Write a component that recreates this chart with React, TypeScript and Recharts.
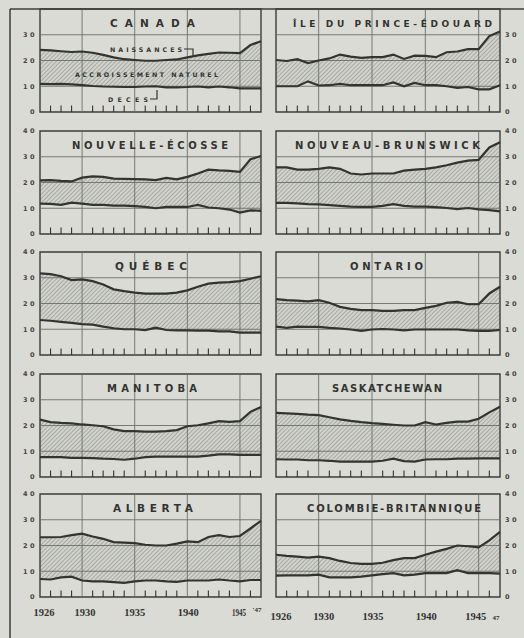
import React from 'react';
import { ComposedChart, Area, Line, XAxis, YAxis, ReferenceLine, ReferenceArea } from 'recharts';

// taux pour 1 000 habitants, 1926-1947
const years = [1926, 1927, 1928, 1929, 1930, 1931, 1932, 1933, 1934, 1935, 1936, 1937, 1938, 1939, 1940, 1941, 1942, 1943, 1944, 1945, 1946, 1947];

const canadaBirths = [24.1, 23.9, 23.6, 23.3, 23.5, 23.0, 22.2, 21.2, 20.5, 20.2, 19.9, 19.9, 20.2, 20.4, 21.2, 22.0, 22.6, 23.1, 23.0, 22.9, 26.0, 27.5];
const canadaDeaths = [10.9, 10.8, 10.9, 10.7, 10.4, 10.1, 9.9, 9.8, 9.7, 9.7, 9.9, 10.0, 9.6, 9.6, 9.7, 9.9, 9.6, 9.9, 9.6, 9.2, 9.2, 9.2];

const peiBirths = [20.2, 19.8, 20.5, 19.0, 20.0, 20.8, 22.3, 21.5, 21.0, 21.3, 21.3, 22.3, 20.6, 21.9, 21.8, 21.3, 23.2, 23.5, 24.4, 24.4, 29.5, 31.3];
const peiDeaths = [10.0, 10.0, 10.0, 11.9, 10.3, 10.4, 10.9, 10.4, 10.4, 10.4, 10.4, 11.5, 10.0, 11.3, 10.4, 10.4, 10.0, 9.4, 9.7, 8.8, 8.8, 10.4];

const nsBirths = [20.8, 20.9, 20.6, 20.4, 21.9, 22.4, 22.2, 21.5, 21.4, 21.3, 21.2, 20.9, 21.8, 21.2, 22.2, 23.5, 25.0, 24.7, 24.5, 24.1, 29.0, 30.3];
const nsDeaths = [11.8, 11.7, 11.3, 12.2, 11.8, 11.3, 11.3, 11.0, 11.0, 10.8, 10.5, 10.0, 10.5, 10.5, 10.5, 11.3, 10.3, 10.0, 9.5, 8.3, 9.2, 9.0];

const nbBirths = [25.9, 25.9, 25.0, 25.0, 25.3, 25.9, 25.3, 23.5, 23.1, 23.5, 23.5, 23.5, 24.6, 25.0, 25.3, 25.9, 26.7, 27.7, 28.5, 28.8, 33.6, 35.6];
const nbDeaths = [12.1, 12.1, 11.9, 11.6, 11.5, 11.2, 10.9, 10.6, 10.5, 10.5, 10.9, 11.6, 10.9, 10.6, 10.6, 10.4, 10.1, 9.7, 10.1, 9.6, 9.3, 8.8];

const quebecBirths = [31.7, 31.4, 30.6, 29.1, 29.4, 28.7, 27.4, 25.5, 24.8, 24.2, 23.8, 23.8, 23.8, 24.2, 25.1, 26.5, 27.7, 28.1, 28.3, 28.7, 29.6, 30.6];
const quebecDeaths = [13.6, 13.3, 12.9, 12.5, 12.0, 11.8, 11.0, 10.4, 10.0, 10.0, 9.7, 10.6, 9.7, 9.6, 9.6, 9.5, 9.5, 9.2, 9.2, 8.7, 8.7, 8.7];

const ontarioBirths = [21.7, 21.3, 21.1, 20.8, 21.3, 20.3, 18.7, 17.9, 17.4, 17.4, 17.1, 17.1, 17.4, 17.4, 18.3, 19.1, 20.3, 20.6, 19.7, 19.7, 23.9, 26.5];
const ontarioDeaths = [11.0, 10.5, 11.0, 10.9, 10.9, 10.5, 10.3, 9.9, 9.4, 9.9, 10.1, 9.9, 9.6, 9.9, 9.9, 9.9, 9.9, 9.9, 9.6, 9.4, 9.4, 9.7];

const manitobaBirths = [22.3, 21.3, 21.0, 20.8, 20.4, 20.1, 19.7, 18.5, 17.8, 17.8, 17.6, 17.6, 17.8, 18.2, 19.7, 20.1, 20.8, 21.7, 21.4, 21.7, 25.3, 27.2];
const manitobaDeaths = [7.7, 7.7, 7.7, 7.4, 7.4, 7.3, 7.1, 7.0, 6.7, 7.1, 7.7, 7.9, 7.9, 7.9, 7.9, 7.9, 8.3, 8.8, 8.8, 8.6, 8.6, 8.6];

const saskBirths = [24.9, 24.7, 24.5, 24.2, 24.0, 23.2, 22.4, 21.8, 21.3, 20.9, 20.6, 20.3, 20.0, 20.0, 21.3, 20.4, 21.0, 21.5, 21.5, 22.6, 25.1, 27.3];
const saskDeaths = [6.9, 6.8, 6.8, 6.5, 6.5, 6.3, 6.0, 6.0, 6.0, 6.0, 6.3, 7.1, 6.2, 6.0, 6.8, 6.9, 6.9, 7.1, 7.1, 7.2, 7.2, 7.2];

const albertaBirths = [23.2, 23.2, 23.3, 24.0, 24.6, 23.5, 22.6, 21.3, 21.1, 20.9, 20.3, 20.0, 20.0, 20.7, 21.6, 21.3, 23.3, 24.0, 23.3, 23.7, 26.6, 29.6];
const albertaDeaths = [7.0, 6.8, 7.6, 7.9, 6.4, 6.1, 6.1, 5.8, 5.5, 6.1, 6.4, 6.4, 6.1, 5.9, 6.4, 6.4, 6.4, 6.8, 6.4, 6.1, 6.6, 6.6];

const bcBirths = [16.4, 16.0, 15.7, 15.3, 15.7, 15.1, 14.0, 13.2, 12.9, 12.9, 13.3, 14.3, 15.1, 15.1, 16.4, 17.6, 18.7, 20.0, 19.7, 19.3, 22.0, 25.3];
const bcDeaths = [8.3, 8.4, 8.4, 8.4, 8.7, 7.6, 7.6, 7.6, 7.9, 8.4, 8.9, 9.3, 8.4, 8.7, 9.3, 9.3, 9.3, 10.4, 9.3, 9.3, 9.3, 9.1];

const gridYears = [1930, 1935, 1940, 1945];
const gridRates = [10, 20, 30];
const rateTicksFirstRow = [0, 10, 20, 30];
const rateTicks = [0, 10, 20, 30, 40];

const yearLabelsLeft: Record<number, string> = { 1926: '1926', 1930: '1930', 1935: '1935', 1940: '1940', 1945: '1945', 1947: "'47" };
const yearLabelsRight: Record<number, string> = { 1926: '1926', 1930: '1930', 1935: '1935', 1940: '1940', 1945: '1945', 1947: '47' };

// layout
const BG = '#dadbd5';
const INK = '#333431';
const PLOT_H = 103;
const ROW_TOPS = [9, 131, 252, 374, 494];
const COLS = [
  { plotLeft: 40, plotRight: 261, axisW: 32 },
  { plotLeft: 276, plotRight: 500, axisW: 24 },
];
// small nudges for the hand-lettered year labels
const labelDx: Record<number, number[]> = {
  1926: [4, 5], 1930: [3, 5], 1935: [0, 1], 1940: [1, 1], 1945: [-1, -3], 1947: [-4, -4],
};

const panels = [
  { title: 'CANADA', births: canadaBirths, deaths: canadaDeaths, tx: [110, 195], fs: 10.5 },
  { title: 'ÎLE DU PRINCE-ÉDOUARD', births: peiBirths, deaths: peiDeaths, tx: [293, 492], fs: 9 },
  { title: 'NOUVELLE-ÉCOSSE', births: nsBirths, deaths: nsDeaths, tx: [72, 228], fs: 10 },
  { title: 'NOUVEAU-BRUNSWICK', births: nbBirths, deaths: nbDeaths, tx: [295, 480], fs: 10 },
  { title: 'QUÉBEC', births: quebecBirths, deaths: quebecDeaths, tx: [115, 187], fs: 10.5 },
  { title: 'ONTARIO', births: ontarioBirths, deaths: ontarioDeaths, tx: [350, 423], fs: 10 },
  { title: 'MANITOBA', births: manitobaBirths, deaths: manitobaDeaths, tx: [107, 197], fs: 10 },
  { title: 'SASKATCHEWAN', births: saskBirths, deaths: saskDeaths, tx: [332, 442], fs: 10 },
  { title: 'ALBERTA', births: albertaBirths, deaths: albertaDeaths, tx: [113, 193], fs: 10.5 },
  { title: 'COLOMBIE-BRITANNIQUE', births: bcBirths, deaths: bcDeaths, tx: [307, 481], fs: 10 },
];

const tickFont = { fontSize: 6.5, fontFamily: 'DejaVu Sans', fontWeight: 700, fill: '#454641', letterSpacing: 2.5 };

function makeYearTick(bottomRow: boolean, col: number) {
  return (props: any) => {
    const { x, y, payload } = props;
    const v = payload.value as number;
    const major = v === 1926 || v === 1947 || gridYears.includes(v);
    const labels = col === 0 ? yearLabelsLeft : yearLabelsRight;
    const label = bottomRow ? labels[v] : undefined;
    const small = v === 1947;
    return (
      <g>
        {!major && <line x1={x} x2={x} y1={y} y2={y - 6.5} stroke={INK} strokeWidth={1.1} />}
        {label && (
          <text
            x={x + labelDx[v][col]}
            y={y + (col === 0 ? 19 : 23) - (small && col === 0 ? 4 : 0)}
            textAnchor="middle"
            fontFamily="Liberation Serif"
            fontWeight={700}
            fontSize={small ? 7 : 10.5}
            fill={INK}
            textLength={v === 1945 && col === 0 ? 14 : undefined}
            lengthAdjust="spacingAndGlyphs"
          >
            {label}
          </text>
        )}
      </g>
    );
  };
}

function Panel({ idx }: { idx: number }) {
  const p = panels[idx];
  const row = Math.floor(idx / 2);
  const col = idx % 2;
  const c = COLS[col];
  const bottomRow = row === 4;
  const xAxisH = bottomRow ? 30 : 6;
  const mTop = 6;
  const mSide = col === 0 ? 2 : 10;
  const plotW = c.plotRight - c.plotLeft;
  const width = plotW + c.axisW + mSide;
  const height = mTop + PLOT_H + xAxisH;
  const left = col === 0 ? c.plotLeft - c.axisW : c.plotLeft - mSide;
  const top = ROW_TOPS[row] - mTop;
  const data = years.map((year, i) => ({
    year,
    births: p.births[i],
    deaths: p.deaths[i],
    range: [p.deaths[i], p.births[i]],
  }));
  const margin = col === 0 ? { top: mTop, right: mSide, left: 0, bottom: 0 } : { top: mTop, right: 0, left: mSide, bottom: 0 };

  return (
    <div style={{ position: 'absolute', left, top, width, height }}>
      <ComposedChart width={width} height={height} data={data} margin={margin}>
        <XAxis
          dataKey="year"
          type="number"
          domain={[1926, 1947]}
          ticks={years}
          interval={0}
          axisLine={false}
          tickLine={false}
          tickSize={0}
          tickMargin={0}
          height={xAxisH}
          tick={makeYearTick(bottomRow, col)}
        />
        <YAxis
          type="number"
          domain={[0, 40]}
          ticks={row === 0 ? rateTicksFirstRow : rateTicks}
          interval={0}
          orientation={col === 0 ? 'left' : 'right'}
          width={c.axisW}
          axisLine={false}
          tickLine={false}
          tickSize={0}
          tickMargin={col === 0 ? 3 : 5}
          tick={tickFont}
        />
        <Area
          dataKey="range"
          type="linear"
          stroke="none"
          fill="url(#hatch)"
          fillOpacity={1}
          isAnimationActive={false}
        />
        {gridRates.map((r) => (
          <ReferenceLine key={'h' + r} y={r} stroke="#6c6e69" strokeWidth={0.9} />
        ))}
        {gridYears.map((y) => (
          <ReferenceLine key={'v' + y} x={y} stroke="#6c6e69" strokeWidth={0.9} />
        ))}
        <Line dataKey="births" type="linear" stroke={INK} strokeWidth={2.2} dot={false} isAnimationActive={false} />
        <Line dataKey="deaths" type="linear" stroke={INK} strokeWidth={2.2} dot={false} isAnimationActive={false} />
        <ReferenceArea x1={1926} x2={1947} y1={0} y2={40} fill="none" stroke="#3c3d3a" strokeWidth={1.4} />
      </ComposedChart>
    </div>
  );
}

const noteFont = { fontFamily: 'DejaVu Sans', fontWeight: 700, fontSize: 6.3, fill: INK };

export default function App() {
  return (
    <div style={{ position: 'absolute', left: 0, top: 0, width: 524, height: 638, background: BG, overflow: 'hidden' }}>
      <svg width={0} height={0} style={{ position: 'absolute' }}>
        <defs>
          <pattern id="hatch" width={3} height={3} patternUnits="userSpaceOnUse" patternTransform="rotate(45)">
            <rect width={3} height={3} fill="#d1d2cc" />
            <line x1={0} y1={0} x2={0} y2={3} stroke="#80827c" strokeWidth={1} />
          </pattern>
        </defs>
      </svg>
      {panels.map((_, i) => (
        <Panel key={i} idx={i} />
      ))}
      <svg width={524} height={638} style={{ position: 'absolute', left: 0, top: 0, pointerEvents: 'none' }}>
        <line x1={10} y1={9} x2={524} y2={9} stroke="#3c3d3a" strokeWidth={1.5} />
        <line x1={10} y1={9} x2={10} y2={638} stroke="#3c3d3a" strokeWidth={1.5} />
        {panels.map((p, i) => {
          const row = Math.floor(i / 2);
          return (
            <text
              key={p.title}
              x={p.tx[0]}
              y={ROW_TOPS[row] + 18}
              textLength={p.tx[1] - p.tx[0]}
              lengthAdjust="spacing"
              fontFamily="DejaVu Sans"
              fontWeight={700}
              fontSize={p.fs}
              fill={INK}
            >
              {p.title}
            </text>
          );
        })}
        <text x={110} y={52} textLength={72} lengthAdjust="spacing" {...noteFont}>NAISSANCES</text>
        <polyline points="184,49 193,49 193,57" fill="none" stroke={INK} strokeWidth={1.2} />
        <text x={75} y={77} textLength={143} lengthAdjust="spacing" {...noteFont}>ACCROISSEMENT NATUREL</text>
        <text x={108} y={102} textLength={40} lengthAdjust="spacing" {...noteFont}>DECES</text>
        <polyline points="150,99 157,99 157,90" fill="none" stroke={INK} strokeWidth={1.2} />
      </svg>
    </div>
  );
}
